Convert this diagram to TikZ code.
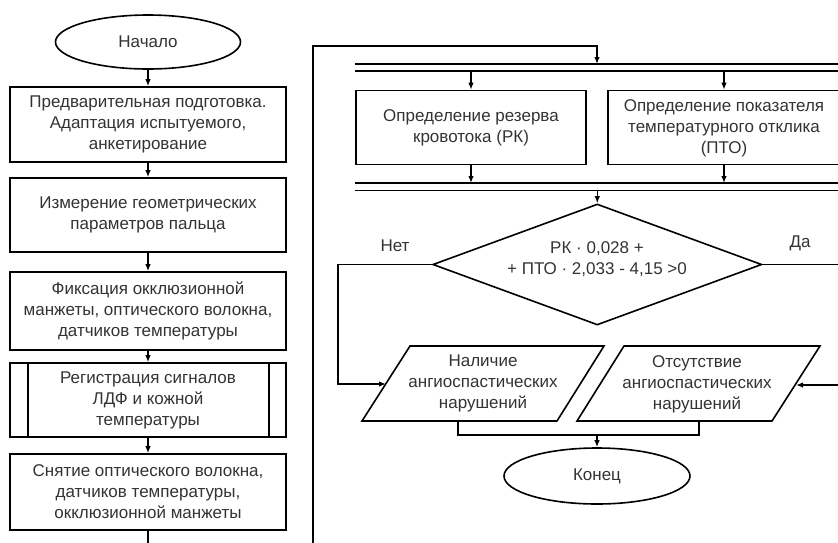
\documentclass[tikz,border=0pt]{standalone}
\usepackage{fontspec}
\setmainfont{Liberation Sans}
\usetikzlibrary{shapes.geometric,arrows.meta}
\begin{document}
\begin{tikzpicture}[x=1pt,y=-1pt,
  txt/.style={font=\fontsize{17}{21}\selectfont, text=black!80, align=center, inner sep=0pt},
  box/.style={txt, draw=black, line width=1.6pt, minimum width=276pt},
  boxline/.style={line width=1.6pt},
  term/.style={txt, ellipse, draw=black, line width=1.6pt},
  arr/.style={line width=1.3pt, -{Latex[length=7pt,width=5.5pt]}},
  ln/.style={line width=1.3pt},
  bar/.style={line width=1.8pt}]
\useasboundingbox (0,0) rectangle (838,542);
\clip (0,0) rectangle (838,542);

% ---------- left column ----------
\node[term, minimum width=185pt, minimum height=54pt] (start) at (148,42) {Начало};
\node[box, minimum height=75pt] (b1) at (148,124.5) {Предварительная подготовка.\\Адаптация испытуемого,\\анкетирование};
\node[box, minimum height=74pt] (b2) at (148,215) {Измерение геометрических\\параметров пальца};
\node[box, minimum height=78pt] (b3) at (148,311) {Фиксация окклюзионной\\манжеты, оптического волокна,\\датчиков температуры};
\node[box, minimum height=74pt] (b4) at (148,400) {Регистрация сигналов\\ЛДФ и кожной\\температуры};
\draw[boxline] ([xshift=19pt]b4.north west) -- ([xshift=19pt]b4.south west);
\draw[boxline] ([xshift=-18pt]b4.north east) -- ([xshift=-18pt]b4.south east);
\node[box, minimum height=76pt] (b5) at (148,492) {Снятие оптического волокна,\\датчиков температуры,\\окклюзионной манжеты};
\coordinate (b5out) at (148,560);

\draw[arr] (start) -- (b1);
\draw[arr] (b1) -- (b2);
\draw[arr] (b2) -- (b3);
\draw[arr] (b3) -- (b4);
\draw[arr] (b4) -- (b5);
\draw[ln] (b5) -- (b5out);

% ---------- loop to right part ----------
\coordinate (loopb) at (313,560);
\coordinate (loopt) at (313,46);
\coordinate (in1) at (597,64);
\coordinate (bar1a) at (355,64);
\coordinate (bar1e) at (860,64);
\coordinate (bar1b) at (355,71);
\coordinate (bar1f) at (860,71);
\coordinate (bar2a) at (355,183);
\coordinate (bar2e) at (860,183);
\coordinate (bar2b) at (355,190.5);
\coordinate (bar2f) at (860,190.5);

\draw[bar] (bar1a) -- (bar1e);
\draw[bar] (bar1b) -- (bar1f);
\draw[bar] (bar2a) -- (bar2e);
\draw[bar] (bar2b) -- (bar2f);
\draw[arr] (loopb) -- (loopt) -| (in1);

% ---------- parallel blocks ----------
\node[box, minimum width=230pt, minimum height=74pt] (rk) at (471,127.5) {Определение резерва\\кровотока (РК)};
\node[box, minimum width=240pt, minimum height=74pt, anchor=west] (pto) at (607,127.5) {};
\node[txt] (ptot) at (724,128) {Определение показателя\\температурного отклика\\(ПТО)};

\draw[arr] (bar1b -| rk) -- (rk.north);
\draw[arr] (bar1b -| ptot) -- (pto.north -| ptot);
\draw[arr] (rk.south) -- (bar2a -| rk);
\draw[arr] (pto.south -| ptot) -- (bar2a -| ptot);

% ---------- decision ----------
\node[diamond, draw=black, line width=1.6pt, minimum width=329pt, minimum height=121pt, inner sep=0pt, aspect=2.7] (dia) at (597.3,264.5) {};
\node[txt] (diat) at (597,259.5) {РК · 0,028 +\\+ ПТО · 2,033 - 4,15 >0};
\draw[arr] (bar2b -| dia) -- (dia.north);
\node[txt] (net) at (395,245.5) {Нет};
\node[txt] (da) at (800,243.5) {Да};

% ---------- outputs ----------
\coordinate (p1tl) at (410,346);
\coordinate (p1tr) at (604,346);
\coordinate (p1br) at (557,421);
\coordinate (p1bl) at (362,421);
\draw[boxline] (p1tl) -- (p1tr) -- (p1br) -- (p1bl) -- cycle;
\node[txt] (p1) at (483,383.5) {Наличие\\ангиоспастических\\нарушений};

\coordinate (p2tl) at (624,346);
\coordinate (p2tr) at (820,346);
\coordinate (p2br) at (772,421);
\coordinate (p2bl) at (577,421);
\draw[boxline] (p2tl) -- (p2tr) -- (p2br) -- (p2bl) -- cycle;
\node[txt] (p2) at (697,384) {Отсутствие\\ангиоспастических\\нарушений};

\coordinate (nl) at (338,384);
\coordinate (p1w) at (386,384);
\draw[arr] (dia.west) -| (nl) -- (p1w);

\coordinate (nr) at (850,385);
\coordinate (p2e) at (796,385);
\draw[arr] (dia.east) -| (nr) -- (p2e);

\coordinate (p1b) at (458,421);
\coordinate (p2b) at (699,421);
\coordinate (jn) at (597,435);
\draw[ln] (p1b) |- (jn) -| (p2b);

\node[term, minimum width=186pt, minimum height=56pt] (stop) at (597,476) {Конец};
\draw[arr] (jn) -- (stop.north);
\end{tikzpicture}
\end{document}
